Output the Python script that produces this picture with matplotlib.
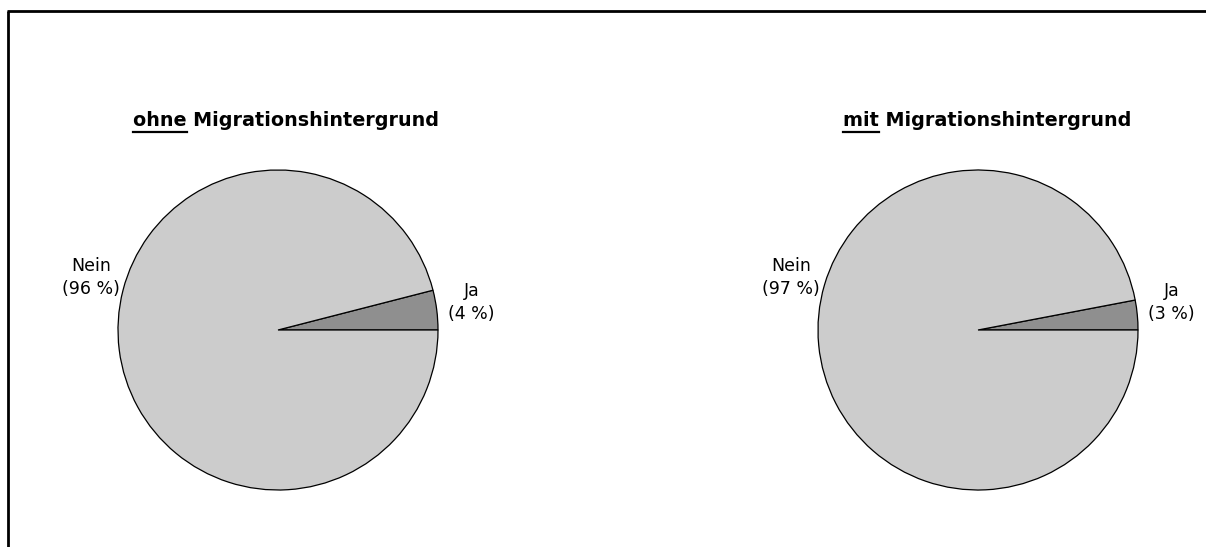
import matplotlib
matplotlib.use("Agg")
import matplotlib.pyplot as plt
from matplotlib.lines import Line2D

# Data
groups = ["ohne", "mit"]
title_rest = " Migrationshintergrund"
categories = ["Ja", "Nein"]
values_ohne = [4, 96]
values_mit = [3, 97]
all_values = [values_ohne, values_mit]
colors = ["#8f8f8f", "#cccccc"]

W, H = 1206, 547
fig = plt.figure(figsize=(W / 100, H / 100), dpi=100)
fig.patch.set_facecolor("white")

# frame (top and left edges visible)
fig.add_artist(Line2D([8 / W, 8 / W], [0, 1 - 11 / H], transform=fig.transFigure,
                      color="black", lw=2.0, solid_capstyle="butt"))
fig.add_artist(Line2D([7 / W, 1], [1 - 11 / H, 1 - 11 / H], transform=fig.transFigure,
                      color="black", lw=2.0, solid_capstyle="butt"))

centers_px = [(278, 330), (978, 330)]
title_cx = [286, 987]
R = 160
TFS = 13.8

titles = []
for i, (g, vals) in enumerate(zip(groups, all_values)):
    cx, cy = centers_px[i]
    ax = fig.add_axes([(cx - R) / W, (H - cy - R) / H, 2 * R / W, 2 * R / H])
    ax.pie(vals, colors=colors, startangle=0, counterclock=True, radius=1,
           wedgeprops=dict(edgecolor="black", linewidth=0.9))
    ax.set_xlim(-1, 1)
    ax.set_ylim(-1, 1)
    ax.set_aspect("auto")
    ax.axis("off")
    ax.text(-1.17, 0.33, f"{categories[1]}\n({vals[1]} %)", ha="center", va="center",
            fontsize=12.5, linespacing=1.35, clip_on=False)
    ax.text(1.21, 0.17, f"{categories[0]}\n({vals[0]} %)", ha="center", va="center",
            fontsize=12.5, linespacing=1.35, clip_on=False)
    t = fig.text(title_cx[i] / W, 1 - 121 / H, g + title_rest, ha="center", va="center",
                 fontsize=TFS, fontweight="bold")
    titles.append((t, g))

fig.canvas.draw()
renderer = fig.canvas.get_renderer()
for t, g in titles:
    bb = t.get_window_extent(renderer)
    tmp = fig.text(bb.x0 / W, t.get_position()[1], g, ha="left", va="center",
                   fontsize=TFS, fontweight="bold", alpha=0)
    bb2 = tmp.get_window_extent(renderer)
    tmp.remove()
    y = (bb.y0 - 1.5) / H
    fig.add_artist(Line2D([bb2.x0 / W, bb2.x1 / W], [y, y], transform=fig.transFigure,
                          color="black", lw=1.6))

fig.savefig("out.png", dpi=100)
